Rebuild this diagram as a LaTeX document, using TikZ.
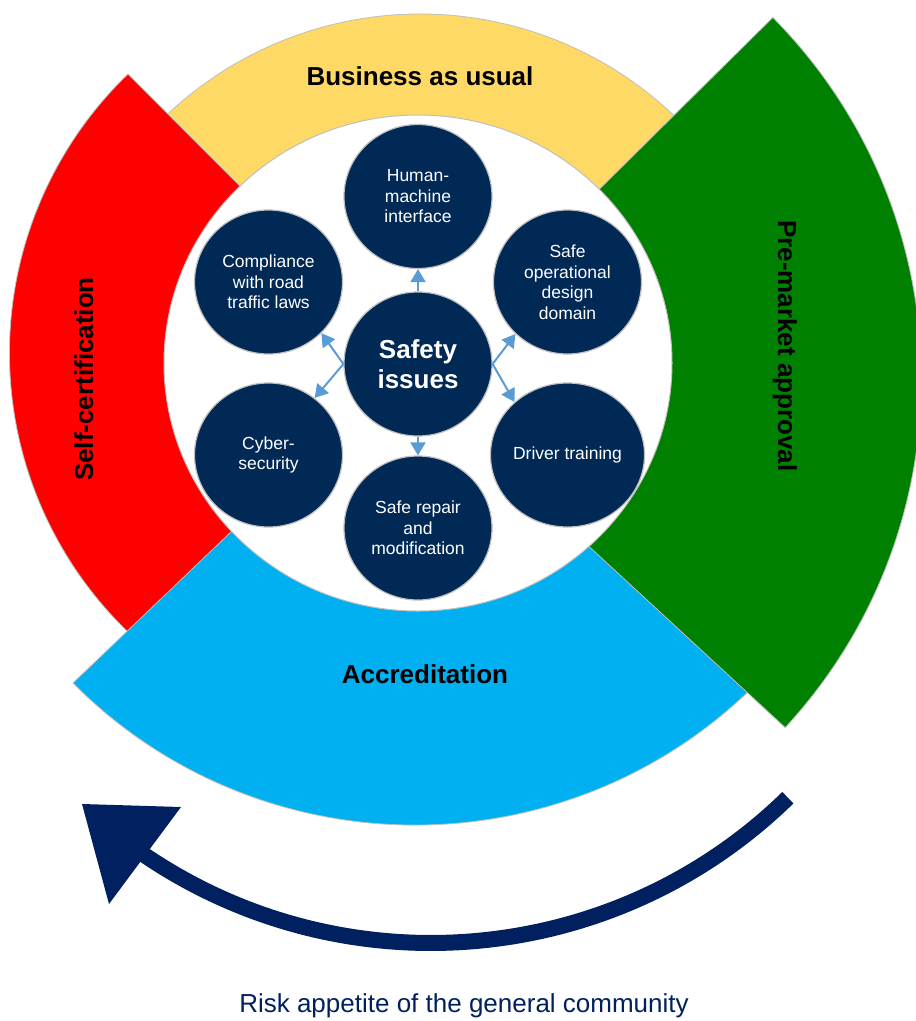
\documentclass[tikz,border=0pt]{standalone}
\usepackage{fontspec}
\setmainfont{Liberation Sans}
\usetikzlibrary{arrows.meta,shapes.geometric}
\definecolor{cyel}{HTML}{FFD966}
\definecolor{cred}{HTML}{FF0000}
\definecolor{cblue}{HTML}{00B0F0}
\definecolor{cgreen}{HTML}{008000}
\definecolor{cnavy}{RGB}{0,41,86}
\definecolor{carrow}{HTML}{002060}
\definecolor{clink}{HTML}{5B9BD5}
\definecolor{crim}{HTML}{BFBFBF}
\begin{document}
\begin{tikzpicture}[x=1pt,y=-1pt,
  sector/.style={draw=crim, line width=0.8pt},
  issue/.style={ellipse, fill=cnavy, draw=crim, line width=1.2pt,
    minimum width=148pt, minimum height=144pt, inner sep=0pt,
    text=white, align=center, font=\fontsize{17.5}{20.5}\selectfont},
  hub/.style={issue, font=\fontsize{26}{30}\selectfont\bfseries},
  band/.style={font=\fontsize{26}{30}\selectfont\bfseries, text=black, inner sep=0pt},
  conn/.style={draw=clink, line width=2pt, -{Triangle[length=13pt,width=15pt]}},
]
\useasboundingbox (0,0) rectangle (916,1021);

% outer bands (each later band covers the hidden ends of the earlier ones)
\path[fill=cyel, sector] (418,364) -- (150.9,131) arc[start angle=223, end angle=316, radius=368] -- cycle;
\path[fill=cred, sector] (418,364) -- (128,74) arc[start angle=226.04, end angle=130, radius=387.6] -- cycle;
\path[fill=cblue, sector] (418,353) -- (73,683) arc[start angle=135.8, end angle=44, x radius=477, y radius=469] -- cycle;
\path[fill=cgreen, sector] (407.5,379) -- ++(-44.7:514) arc[start angle=-44.7, end angle=42.7, radius=514] -- cycle;

% inner white disc
\path[fill=white, draw=crim, line width=1pt] (418,363) ellipse [x radius=254, y radius=248];

% band labels
\node[band, anchor=base] (bau) at (420,85) {Business as usual};
\node[band, anchor=base] (acc) at (425,683) {Accreditation};
\node[band, anchor=base, rotate=90] (self) at (93,379) {Self-certification};
\node[band, anchor=base, rotate=-90] (pre) at (778,346) {Pre-market approval};

% issue circles
\node[hub] (c) at (418,364) {Safety\\issues};
\node[issue] (t) at (418,196.5) {Human-\\machine\\interface};
\node[issue] (ur) at (567.5,282) {Safe\\operational\\design\\domain};
\node[issue] (lr) at (567.5,455) {Driver training};
\node[issue] (b) at (418,528) {Safe repair\\and\\modification};
\node[issue] (ll) at (268.5,455) {Cyber-\\security};
\node[issue] (ul) at (268.5,282) {Compliance\\with road\\traffic laws};

% connectors
\draw[conn] (c.north) -- (t.south);
\draw[conn] (c.south) -- (b.north);
\draw[conn] (c.west) -- (ul.-44);
\draw[conn] (c.west) -- (ll.51);
\draw[conn] (c.east) -- (ur.-135);
\draw[conn] (c.east) -- (lr.135);

% big curved arrow
\draw[carrow, line width=16pt] (431,432) ++(45.7:511) arc[start angle=45.7, end angle=124.5, radius=511];
\fill[carrow] (82,804) -- (181,807) -- (109,904) -- cycle;

% caption
\node[font=\fontsize{26}{30}\selectfont, text=carrow, anchor=base, inner sep=0pt] (risk) at (464,1012) {Risk appetite of the general community};
\end{tikzpicture}
\end{document}
